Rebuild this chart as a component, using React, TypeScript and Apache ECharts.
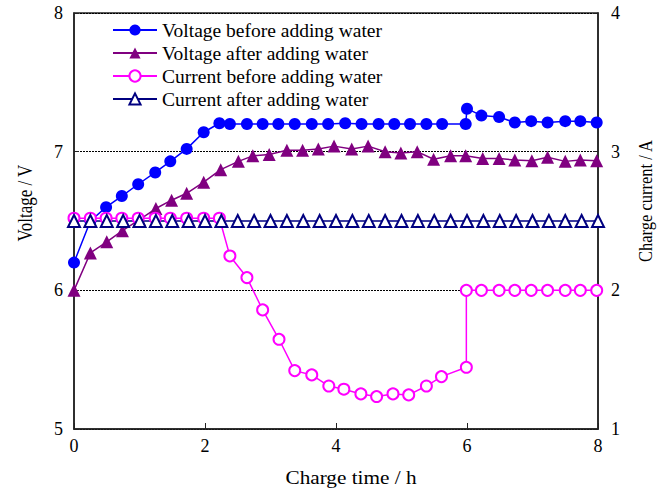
import React, { useEffect, useRef } from "react";
import * as echarts from "echarts";

const legendNames = [
  "Voltage before adding water",
  "Voltage after adding water",
  "Current before adding water",
  "Current after adding water",
];

const xTicks = [0, 2, 4, 6, 8];

const vBeforeX = [0, 0.25, 0.49, 0.73, 0.98, 1.24, 1.47, 1.72, 1.98, 2.22, 2.38, 2.64, 2.88, 3.12, 3.37, 3.63, 3.88, 4.14, 4.39, 4.65, 4.89, 5.13, 5.38, 5.62, 5.98, 6.0, 6.22, 6.49, 6.73, 6.98, 7.23, 7.5, 7.73, 7.98];
const vBeforeY = [6.2, 6.5, 6.6, 6.68, 6.765, 6.85, 6.93, 7.02, 7.14, 7.205, 7.2, 7.2, 7.2, 7.2, 7.2, 7.2, 7.2, 7.205, 7.2, 7.2, 7.2, 7.2, 7.2, 7.2, 7.2, 7.31, 7.26, 7.25, 7.21, 7.22, 7.21, 7.22, 7.22, 7.21];

const vAfterX = [0, 0.25, 0.5, 0.74, 1.0, 1.25, 1.49, 1.72, 1.98, 2.24, 2.51, 2.73, 2.98, 3.25, 3.49, 3.73, 3.97, 4.24, 4.49, 4.75, 4.99, 5.24, 5.49, 5.75, 5.98, 6.24, 6.49, 6.73, 6.99, 7.23, 7.5, 7.73, 7.98];
const vAfterY = [6.0, 6.27, 6.35, 6.43, 6.51, 6.59, 6.65, 6.7, 6.78, 6.87, 6.93, 6.97, 6.98, 7.01, 7.01, 7.02, 7.04, 7.02, 7.04, 7.0, 6.99, 7.0, 6.945, 6.97, 6.97, 6.95, 6.95, 6.94, 6.935, 6.96, 6.93, 6.94, 6.935];

const cBeforeX = [0, 0.25, 0.49, 0.73, 0.98, 1.24, 1.47, 1.72, 1.98, 2.22, 2.38, 2.64, 2.88, 3.13, 3.37, 3.63, 3.89, 4.12, 4.38, 4.62, 4.87, 5.11, 5.38, 5.61, 5.99, 5.99, 6.22, 6.49, 6.73, 6.98, 7.23, 7.5, 7.73, 7.98];
const cBeforeY = [2.52, 2.52, 2.52, 2.52, 2.52, 2.52, 2.52, 2.52, 2.52, 2.52, 2.248, 2.092, 1.859, 1.647, 1.421, 1.39, 1.31, 1.287, 1.253, 1.234, 1.253, 1.246, 1.31, 1.378, 1.445, 2.0, 2.0, 2.0, 2.0, 2.0, 2.0, 2.0, 2.0, 2.0];

const cAfterX = [0, 0.25, 0.5, 0.75, 1.0, 1.25, 1.5, 1.75, 2.0, 2.25, 2.5, 2.75, 3.0, 3.25, 3.5, 3.75, 4.0, 4.25, 4.5, 4.75, 5.0, 5.25, 5.5, 5.75, 6.0, 6.25, 6.5, 6.75, 7.0, 7.25, 7.5, 7.75, 8.0];
const cAfterY = [2.5, 2.5, 2.5, 2.5, 2.5, 2.5, 2.5, 2.5, 2.5, 2.5, 2.5, 2.5, 2.5, 2.5, 2.5, 2.5, 2.5, 2.5, 2.5, 2.5, 2.5, 2.5, 2.5, 2.5, 2.5, 2.5, 2.5, 2.5, 2.5, 2.5, 2.5, 2.5, 2.5];

const zip = (xs: number[], ys: number[]) => xs.map((x, i) => [x, ys[i]]);

const FONT = "Liberation Serif";

export default function App() {
  const ref = useRef<HTMLDivElement>(null);
  useEffect(() => {
    if (!ref.current) return;
    const chart = echarts.init(ref.current, undefined, { renderer: "svg" });
    const axisLabel = { color: "#000", fontFamily: FONT, fontSize: 18 };
    chart.setOption({
      animation: false,
      backgroundColor: "#fff",
      grid: {
        left: 74,
        right: 68,
        top: 13,
        bottom: 63,
        show: true,
        borderColor: "#222",
        borderWidth: 1.5,
        backgroundColor: "transparent",
      },
      legend: {
        orient: "vertical",
        left: 107,
        top: 15,
        itemWidth: 44,
        itemHeight: 14,
        itemGap: 3,
        data: legendNames,
        textStyle: { color: "#000", fontFamily: FONT, fontSize: 19.5, lineHeight: 20 },
      },
      xAxis: {
        type: "value",
        min: 0,
        max: 8,
        interval: 2,
        axisLine: { show: true, lineStyle: { color: "#222", width: 1.5 } },
        axisTick: { show: true, inside: true, length: 6, lineStyle: { color: "#222" } },
        splitLine: { show: false },
        axisLabel: { ...axisLabel, margin: 8, formatter: (v: number) => (xTicks.includes(v) ? String(v) : "") },
      },
      yAxis: [
        {
          type: "value",
          min: 5,
          max: 8,
          interval: 1,
          axisLine: { show: true, lineStyle: { color: "#222", width: 1.5 } },
          axisTick: { show: true, inside: true, length: 5, lineStyle: { color: "#222" } },
          splitLine: { show: true, lineStyle: { color: "#000", type: [2, 1], width: 1 } },
          axisLabel: { ...axisLabel, margin: 11 },
        },
        {
          type: "value",
          min: 1,
          max: 4,
          interval: 1,
          position: "right",
          axisLine: { show: true, lineStyle: { color: "#222", width: 1.5 } },
          axisTick: { show: true, inside: true, length: 5, lineStyle: { color: "#222" } },
          splitLine: { show: false },
          axisLabel: { ...axisLabel, margin: 13 },
        },
      ],
      graphic: [
        {
          type: "text",
          x: 25,
          y: 203,
          rotation: Math.PI / 2,
          scaleY: 1.2,
          style: { text: "Voltage / V", fontFamily: FONT, fontSize: 17, fill: "#000", textAlign: "center", textVerticalAlign: "middle" },
        },
        {
          type: "text",
          x: 645,
          y: 201,
          rotation: Math.PI / 2,
          scaleY: 1.2,
          style: { text: "Charge current / A", fontFamily: FONT, fontSize: 16.5, fill: "#000", textAlign: "center", textVerticalAlign: "middle" },
        },
        {
          type: "text",
          x: 351,
          y: 478,
          scaleX: 1.18,
          style: { text: "Charge time / h", fontFamily: FONT, fontSize: 18, fill: "#000", textAlign: "center", textVerticalAlign: "middle" },
        },
      ],
      series: [
        {
          name: legendNames[0],
          type: "line",
          yAxisIndex: 0,
          data: zip(vBeforeX, vBeforeY),
          symbol: "circle",
          symbolSize: 12,
          lineStyle: { color: "#0000ff", width: 1.5 },
          itemStyle: { color: "#0000ff" },
        },
        {
          name: legendNames[1],
          type: "line",
          yAxisIndex: 0,
          data: zip(vAfterX, vAfterY),
          symbol: "triangle",
          symbolSize: 13,
          lineStyle: { color: "#800080", width: 1.5 },
          itemStyle: { color: "#800080" },
        },
        {
          name: legendNames[2],
          type: "line",
          yAxisIndex: 1,
          data: zip(cBeforeX, cBeforeY),
          symbol: "emptyCircle",
          symbolSize: 11,
          lineStyle: { color: "#ff00ff", width: 1.5 },
          itemStyle: { color: "#ff00ff", borderWidth: 1.5 },
        },
        {
          name: legendNames[3],
          type: "line",
          yAxisIndex: 1,
          data: zip(cAfterX, cAfterY),
          symbol: "emptyTriangle",
          symbolSize: 12,
          lineStyle: { color: "#000080", width: 1.5 },
          itemStyle: { color: "#000080", borderWidth: 1.5 },
        },
      ],
    });
    return () => chart.dispose();
  }, []);
  return (
    <div
      ref={ref}
      style={{ position: "absolute", left: 0, top: 0, width: 666, height: 492, background: "#fff" }}
    />
  );
}
